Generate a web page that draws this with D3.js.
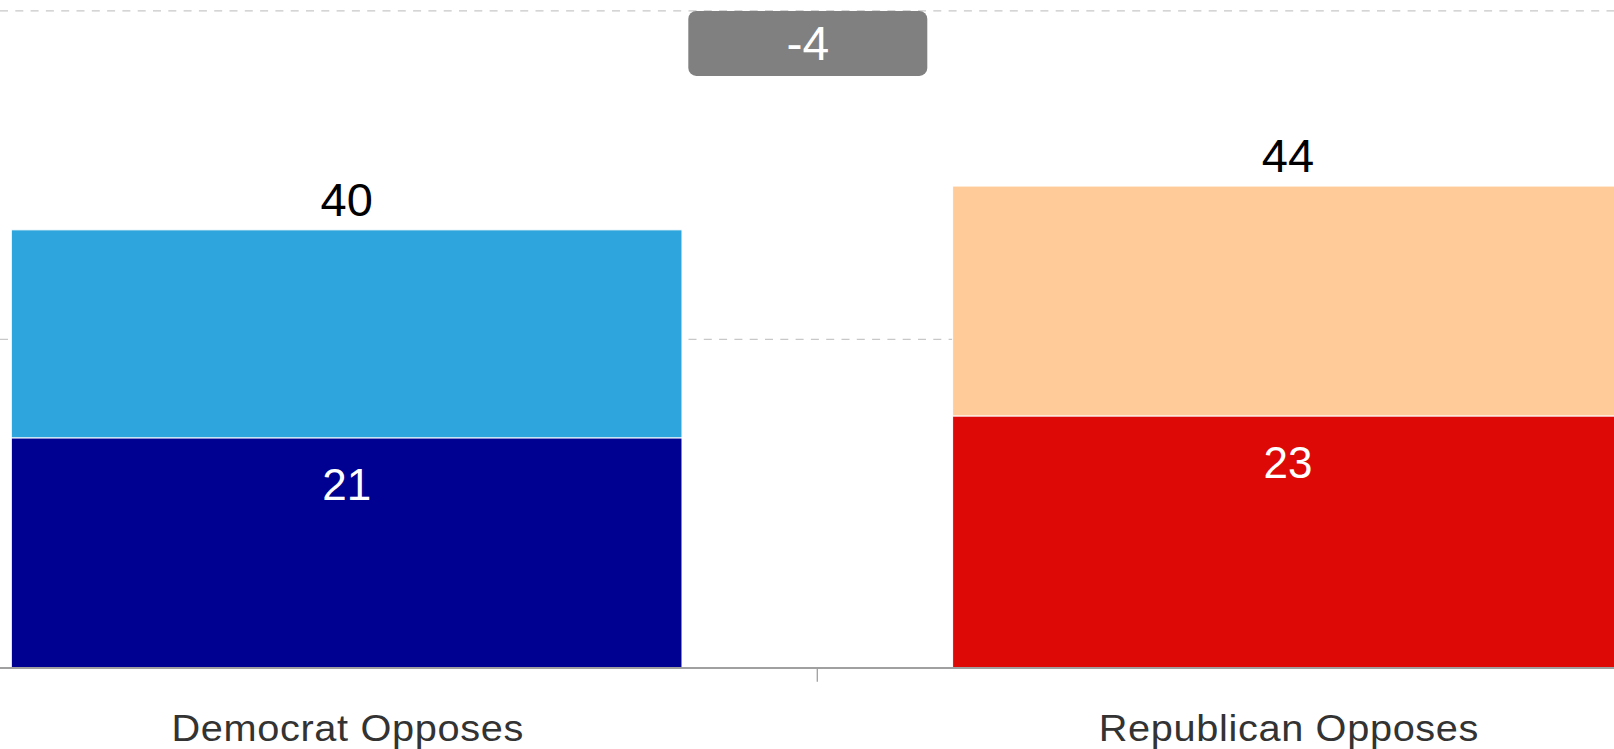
<!DOCTYPE html>
<html>
<head>
<meta charset="utf-8">
<script src="https://cdn.jsdelivr.net/npm/d3@7"></script>
<style>
  html, body { margin: 0; padding: 0; background: #fff; overflow: hidden; }
  svg { display: block; font-family: "Liberation Sans", Arial, sans-serif; }
</style>
</head>
<body>
<svg id="chart" width="1614" height="749"></svg>
<script>
// ---- data ----
const categories = ["Democrat Opposes", "Republican Opposes"];
const lowerValues = [21, 23];   // bottom segment of each stack
const upperValues = [19, 21];   // top segment of each stack
const yTicks = [0, 30, 60];

// ---- styles ----
const lowerColors = ["#000091", "#DD0906"];
const upperColors = ["#2EA5DC", "#FFCC99"];

const W = 1614, H = 749;
const svg = d3.select("#chart");

const y = d3.scaleLinear().domain([0, 60]).range([667.7, 10.9]);
const x = d3.scaleBand().domain(categories)
  .range([-124.0, 1758.6])
  .paddingInner(0.2875)
  .paddingOuter(0.14375);

const totals = categories.map((c, i) => lowerValues[i] + upperValues[i]);

// gridlines
svg.append("g").selectAll("line").data(yTicks.filter(t => t > 0)).join("line")
  .attr("x1", 0).attr("x2", W)
  .attr("y1", d => y(d)).attr("y2", d => y(d))
  .attr("stroke", "#c8c8c8").attr("stroke-width", 1.3)
  .attr("stroke-dasharray", "8,7.3");

// stacked bars
const rows = categories.map((c, i) => ({ c, i, lo: lowerValues[i], hi: upperValues[i], total: totals[i] }));
const gBars = svg.append("g");
gBars.selectAll("rect.lower").data(rows).join("rect")
  .attr("class", "lower")
  .attr("x", d => x(d.c)).attr("width", x.bandwidth())
  .attr("y", d => y(d.lo)).attr("height", d => y(0) - y(d.lo))
  .attr("fill", d => lowerColors[d.i])
  .attr("stroke", "#fff").attr("stroke-width", 1);
gBars.selectAll("rect.upper").data(rows).join("rect")
  .attr("class", "upper")
  .attr("x", d => x(d.c)).attr("width", x.bandwidth())
  .attr("y", d => y(d.total)).attr("height", d => y(d.lo) - y(d.total))
  .attr("fill", d => upperColors[d.i])
  .attr("stroke", "#fff").attr("stroke-width", 1);

// axis line and tick between categories
const step = x.step();
const boundary = x(categories[0]) + x.bandwidth() + step * x.paddingInner() / 2;
svg.append("line")
  .attr("x1", 0).attr("x2", W).attr("y1", y(0) + 0.3).attr("y2", y(0) + 0.3)
  .attr("stroke", "#a0a0a0").attr("stroke-width", 1.8);
svg.append("line")
  .attr("x1", boundary).attr("x2", boundary)
  .attr("y1", y(0)).attr("y2", y(0) + 14)
  .attr("stroke", "#a0a0a0").attr("stroke-width", 1.3);

// category labels (slightly widened glyphs, as in the reference)
svg.append("g").selectAll("text").data(categories).join("text")
  .attr("transform", d => `translate(${x(d) + x.bandwidth() / 2 + 1},741) scale(1.06,1)`)
  .attr("text-anchor", "middle")
  .attr("font-size", 37.5)
  .attr("letter-spacing", 0.6)
  .attr("fill", "#333")
  .text(d => d);

// total labels above bars
svg.append("g").selectAll("text").data(rows).join("text")
  .attr("x", d => x(d.c) + x.bandwidth() / 2)
  .attr("y", d => y(d.total) - 14)
  .attr("text-anchor", "middle")
  .attr("font-size", 47)
  .attr("fill", "#000")
  .text(d => d.total);

// inner labels on lower segments
svg.append("g").selectAll("text").data(rows).join("text")
  .attr("x", d => x(d.c) + x.bandwidth() / 2)
  .attr("y", d => y(d.lo) + 62)
  .attr("text-anchor", "middle")
  .attr("font-size", 44)
  .attr("fill", "#fff")
  .text(d => d.lo);

// difference badge
const diff = totals[0] - totals[1];
const boxW = 239, boxH = 65;
const boxCx = boundary - 9.5;
const boxTop = y(60);
svg.append("rect")
  .attr("x", boxCx - boxW / 2).attr("y", boxTop)
  .attr("width", boxW).attr("height", boxH)
  .attr("rx", 8).attr("ry", 8)
  .attr("fill", "#808080");
svg.append("text")
  .attr("x", boxCx).attr("y", boxTop + boxH / 2 + 16.8)
  .attr("text-anchor", "middle")
  .attr("font-size", 48)
  .attr("fill", "#fff")
  .text(diff);
</script>
</body>
</html>
